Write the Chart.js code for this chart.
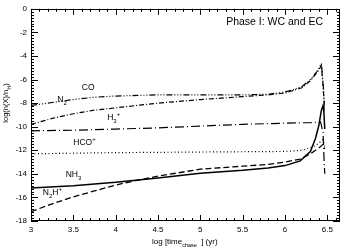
<!DOCTYPE html>
<html><head><meta charset="utf-8">
<script src="https://cdn.jsdelivr.net/npm/chart.js@4.4.1/dist/chart.umd.min.js"></script>
<style>html,body{margin:0;padding:0;background:#fff;overflow:hidden}canvas{display:block}</style>
</head><body><canvas id="c" width="345" height="249"></canvas>
<script>
const coX  = [3,3.25,3.5,3.75,4,4.5,5,5.5,5.8,6.0,6.1,6.2,6.3,6.38,6.43,6.45,6.465];
const coY  = [-8.2,-7.95,-7.7,-7.5,-7.4,-7.3,-7.3,-7.3,-7.25,-7.05,-6.85,-6.6,-6.0,-5.3,-4.65,-6.2,-8.0];
const n2X  = [3,3.25,3.5,3.75,4,4.5,5,5.5,5.8,6.0,6.2,6.3,6.4,6.43,6.45,6.465];
const n2Y  = [-9.8,-9.3,-8.9,-8.6,-8.4,-8.0,-7.7,-7.45,-7.3,-7.15,-6.7,-6.1,-5.2,-4.8,-6.6,-8.2];
const h3X  = [3,3.5,4,4.5,5,5.5,6,6.3,6.42,6.45,6.46,6.47];
const h3Y  = [-10.35,-10.3,-10.2,-10.1,-9.95,-9.8,-9.7,-9.65,-9.6,-10.5,-12.5,-14.0];
const hcoX = [3,4,5,6,6.2,6.3,6.38,6.45,6.47];
const hcoY = [-12.3,-12.2,-12.15,-12.1,-12.0,-11.8,-11.5,-11.1,-11.7];
const nh3X = [3,3.5,4,4.5,5,5.5,5.8,6.0,6.18,6.3,6.36,6.4,6.43,6.45,6.46,6.47];
const nh3Y = [-15.2,-15.0,-14.72,-14.35,-13.95,-13.7,-13.5,-13.3,-12.9,-12.1,-11.0,-9.9,-8.6,-8.2,-8.8,-10.2];
const n2hX = [3,3.25,3.5,3.75,4,4.25,4.5,5,5.5,5.8,6.0,6.18,6.3,6.4,6.45,6.47];
const n2hY = [-17.2,-16.55,-15.95,-15.45,-14.95,-14.55,-14.2,-13.6,-13.35,-13.2,-13.0,-12.75,-12.3,-11.8,-11.5,-11.9];
const xTicks = [3,3.5,4,4.5,5,5.5,6,6.5];
const yTicks = [0,-2,-4,-6,-8,-10,-12,-14,-16,-18];

const pts = (xs, ys) => xs.map((x, i) => ({x, y: ys[i]}));
const FONT = '"Liberation Sans", Arial, sans-serif';

function ds(xs, ys, dash, w) {
  return {data: pts(xs, ys), borderColor: '#000', borderWidth: w || 1.2, borderDash: dash,
          pointRadius: 0, showLine: true, fill: false, tension: 0};
}

const labels = [
  {x: 3.6, y: -6.9, main: 'CO'},
  {x: 3.31, y: -7.9, main: 'N', sub: '2'},
  {x: 3.9, y: -9.45, main: 'H', sub: '3', sup: '+'},
  {x: 3.5, y: -11.55, main: 'HCO', sup: '+'},
  {x: 3.41, y: -14.3, main: 'NH', sub: '3'},
  {x: 3.14, y: -15.8, main: 'N', sub: '2', main2: 'H', sup: '+'},
];

const deco = {
  id: 'deco',
  afterDraw(chart) {
    const ctx = chart.ctx, xs = chart.scales.x, ys = chart.scales.y;
    const a = chart.chartArea;
    ctx.save();
    ctx.strokeStyle = '#000'; ctx.lineWidth = 1;
    ctx.strokeRect(Math.round(a.left) + 0.5, Math.round(a.top) + 0.5,
                   Math.round(a.right - a.left) - 1, Math.round(a.bottom - a.top) - 1);
    ctx.beginPath();
    for (let i = 30; i <= 66; i++) {
      const v = i / 10;
      const px = Math.round(xs.getPixelForValue(v)) + 0.5;
      const len = (i % 5 === 0) ? 6 : 3;
      ctx.moveTo(px, a.bottom); ctx.lineTo(px, a.bottom - len);
      ctx.moveTo(px, a.top); ctx.lineTo(px, a.top + len);
    }
    for (let i = 0; i <= 72; i++) {
      const v = -i / 4;
      const py = Math.round(ys.getPixelForValue(v)) + 0.5;
      const len = (i % 8 === 0) ? 7 : 3;
      ctx.moveTo(a.left, py); ctx.lineTo(a.left + len, py);
      ctx.moveTo(a.right, py); ctx.lineTo(a.right - len, py);
    }
    ctx.stroke();

    ctx.fillStyle = '#000';
    for (const L of labels) {
      let px = xs.getPixelForValue(L.x), py = ys.getPixelForValue(L.y);
      ctx.font = '8.5px ' + FONT; ctx.textBaseline = 'alphabetic'; ctx.textAlign = 'left';
      ctx.fillText(L.main, px, py); px += ctx.measureText(L.main).width;
      if (L.sub) { ctx.font = '6px ' + FONT; ctx.fillText(L.sub, px, py + 3); px += ctx.measureText(L.sub).width; }
      if (L.main2) { ctx.font = '8.5px ' + FONT; ctx.fillText(L.main2, px, py); px += ctx.measureText(L.main2).width; }
      if (L.sup) { ctx.font = '6px ' + FONT; ctx.fillText(L.sup, px, py - 4); }
    }
    ctx.font = '10.5px ' + FONT; ctx.textAlign = 'right';
    ctx.fillText('Phase I: WC and EC', a.right - 17, a.top + 16);

    ctx.textAlign = 'left';
    let tx = 152, ty = 244;
    ctx.font = '8px ' + FONT; ctx.fillText('log [time', tx, ty); tx += ctx.measureText('log [time').width;
    ctx.font = '5.5px ' + FONT; ctx.fillText('chase', tx, ty + 2.5); tx += ctx.measureText('chase').width;
    ctx.font = '8px ' + FONT; ctx.fillText(' ] (yr)', tx + 2, ty);

    ctx.translate(8, 103); ctx.rotate(-Math.PI / 2);
    const p1 = 'log(n(X)/n', p2 = 'H', p3 = ')';
    ctx.font = '7.5px ' + FONT; const w1 = ctx.measureText(p1).width;
    ctx.font = '5.5px ' + FONT; const w2 = ctx.measureText(p2).width;
    ctx.font = '7.5px ' + FONT; const w3 = ctx.measureText(p3).width;
    let sx = -(w1 + w2 + w3) / 2;
    ctx.fillText(p1, sx, 0); sx += w1;
    ctx.font = '5.5px ' + FONT; ctx.fillText(p2, sx, 2.5); sx += w2;
    ctx.font = '7.5px ' + FONT; ctx.fillText(p3, sx, 0);
    ctx.restore();
  }
};

new Chart(document.getElementById('c'), {
  type: 'scatter',
  data: {datasets: [
    ds(coX, coY, [6, 2, 1, 2, 1, 2, 1, 2]),
    ds(n2X, n2Y, [5, 2, 1, 2]),
    ds(h3X, h3Y, [9, 3, 1, 3]),
    ds(hcoX, hcoY, [1, 2.5]),
    ds(nh3X, nh3Y, [], 1.5),
    ds(n2hX, n2hY, [6, 3], 1.3),
  ]},
  options: {
    responsive: false, animation: false, devicePixelRatio: 1,
    layout: {padding: {left: 0, top: 5, right: 5, bottom: 0}},
    plugins: {legend: {display: false}, tooltip: {enabled: false}},
    scales: {
      x: {type: 'linear', min: 3, max: 6.65,
          afterFit(s) { s.height = 28; },
          afterBuildTicks(s) { s.ticks = xTicks.map(v => ({value: v})); },
          grid: {display: false, drawTicks: false}, border: {display: false},
          ticks: {includeBounds: false, autoSkip: false, color: '#000', font: {family: FONT, size: 8}, padding: 4, maxRotation: 0,
                  callback: v => String(v)}},
      y: {type: 'linear', min: -18, max: 0,
          afterFit(s) { s.width = 31; },
          afterBuildTicks(s) { s.ticks = yTicks.map(v => ({value: v})); },
          grid: {display: false, drawTicks: false}, border: {display: false},
          ticks: {includeBounds: false, autoSkip: false, color: '#000', font: {family: FONT, size: 8}, padding: 4,
                  callback: v => String(v)}}
    }
  },
  plugins: [deco]
});
</script></body></html>
